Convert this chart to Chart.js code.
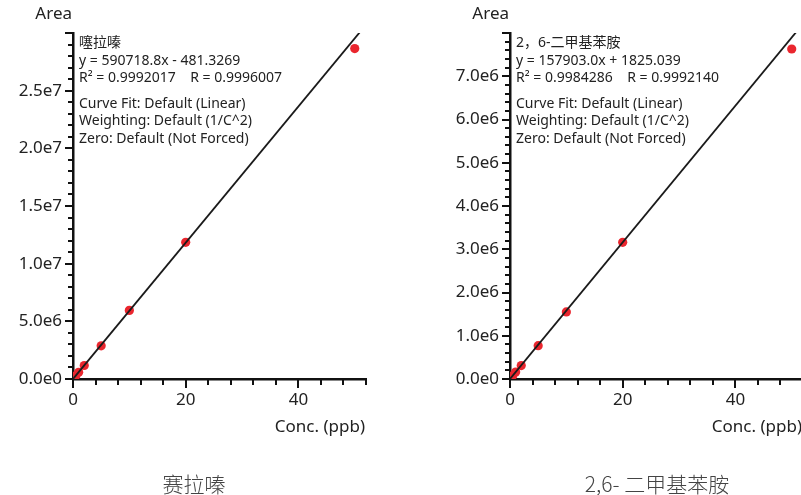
<!DOCTYPE html>
<html>
<head>
<meta charset="utf-8">
<script src="https://cdn.jsdelivr.net/npm/chart.js@4.4.1/dist/chart.umd.min.js"></script>
<style>
    html, body { margin: 0; padding: 0; background: #fff; }
    body { width: 801px; height: 495px; overflow: hidden; position: relative; font-family: 'Noto Sans', 'Noto Sans CJK SC', sans-serif; }
    canvas { position: absolute; top: 0; }
    .titulo { position: absolute; top: 468px; font-family: 'Noto Sans CJK SC', sans-serif; font-size: 21px; font-weight: 300; color: #444; transform: translateX(-50%); white-space: nowrap; }
</style>
</head>
<body>
<canvas id="grafica1" width="400" height="495" style="left:0"></canvas>
<canvas id="grafica2" width="440" height="495" style="left:400px"></canvas>
<div class="titulo" style="left:194px">赛拉嗪</div>
<div class="titulo" style="left:657px">2,6- 二甲基苯胺</div>
<script>
// concentraciones de los patrones (ppb)
const concentraciones = [0.1, 0.2, 0.5, 1, 2, 5, 10, 20, 50];
// areas
const areasXilacina = [60000, 120000, 290000, 580000, 1170000, 2880000, 5950000, 11850000, 28650000];
const areasDimetilanilina = [16000, 32000, 80000, 160000, 310000, 770000, 1550000, 3160000, 7630000];
// recta de calibrado: pendiente, ordenada
const rectaXilacina = [590718.8, -481.3269];
const rectaDimetilanilina = [157903.0, 1825.039];
// extremos x de la recta
const extremosRecta = [0, 52];

// ejes
const ejeX = { max: 52, paso: 4, mayor: 20 };
const ejeY1 = { max: 30000000, paso: 1000000, mayor: 5000000 };
const ejeY2 = { max: 8000000, paso: 200000, mayor: 1000000 };

const textos1 = ['噻拉嗪', 'y = 590718.8x - 481.3269', 'R² = 0.9992017    R = 0.9996007',
    'Curve Fit: Default (Linear)', 'Weighting: Default (1/C^2)', 'Zero: Default (Not Forced)'];
const textos2 = ['2，6-二甲基苯胺', 'y = 157903.0x + 1825.039', 'R² = 0.9984286    R = 0.9992140',
    'Curve Fit: Default (Linear)', 'Weighting: Default (1/C^2)', 'Zero: Default (Not Forced)'];

const fuente = "'Noto Sans', 'Noto Sans CJK SC', sans-serif";

function esMayor(v, m) {
    return Math.abs(v / m - Math.round(v / m)) < 1e-6;
}

function formatoExp(v) {
    return v.toExponential(1).replace('+', '');
}

// marcas de los ejes y textos
const marcas = {
    id: 'marcas',
    afterDraw(chart, args, opts) {
        const ctx = chart.ctx;
        const x = chart.scales.x, y = chart.scales.y;
        const area = chart.chartArea;
        ctx.save();
        ctx.strokeStyle = '#111';
        ctx.lineWidth = 2;
        ctx.beginPath();
        x.ticks.forEach(t => {
            const px = Math.round(x.getPixelForValue(t.value));
            const largo = esMayor(t.value, opts.mayorX) ? 9 : 6;
            ctx.moveTo(px, area.bottom); ctx.lineTo(px, area.bottom + largo);
        });
        y.ticks.forEach(t => {
            const py = Math.round(y.getPixelForValue(t.value));
            const largo = esMayor(t.value, opts.mayorY) ? 8 : 5;
            ctx.moveTo(area.left, py); ctx.lineTo(area.left - largo, py);
        });
        ctx.stroke();

        ctx.fillStyle = '#222';
        ctx.font = '17px ' + fuente;
        ctx.textBaseline = 'middle';
        ctx.textAlign = 'right';
        ctx.fillText('Area', area.left - 1, 14);
        ctx.fillText('Conc. (ppb)', area.right - 1, 427);

        ctx.textAlign = 'left';
        ctx.font = '14px ' + fuente;
        const filas = [10, 28, 45, 71, 88, 106];
        opts.textos.forEach((s, i) => ctx.fillText(s, area.left + 6, area.top + filas[i]));
        ctx.restore();
    }
};

function creaGrafica(id, areas, recta, ejeY, textos, anchoY, margenDer) {
    const ctx = document.getElementById(id);
    new Chart(ctx, {
        type: 'scatter',
        data: {
            datasets: [{
                // recta de calibrado (primero para que quede encima)
                data: extremosRecta.map(c => ({ x: c, y: recta[0] * c + recta[1] })),
                showLine: true,
                borderColor: '#1a1a1a',
                borderWidth: 1.8,
                pointRadius: 0
            }, {
                data: concentraciones.map((c, i) => ({ x: c, y: areas[i] })),
                backgroundColor: 'rgb(234, 38, 46)',
                borderWidth: 0,
                pointRadius: 4.6
            }]
        },
        options: {
            responsive: false,
            animation: false,
            devicePixelRatio: 1,
            layout: { padding: { top: 33, right: margenDer, left: 0, bottom: 0 } },
            plugins: {
                legend: { display: false },
                tooltip: { enabled: false },
                marcas: { mayorX: ejeX.mayor, mayorY: ejeY.mayor, textos: textos }
            },
            scales: {
                x: {
                    type: 'linear',
                    min: 0, max: ejeX.max,
                    afterFit: s => { s.height = 116; },
                    grid: { display: true, drawOnChartArea: false, tickLength: 9, tickColor: 'transparent' },
                    border: { display: true, color: '#111', width: 2.5 },
                    ticks: {
                        stepSize: ejeX.paso, autoSkip: false, maxRotation: 0, padding: 2,
                        color: '#222', font: { family: fuente, size: 17 },
                        callback: v => esMayor(v, ejeX.mayor) ? String(v) : ''
                    }
                },
                y: {
                    type: 'linear',
                    min: 0, max: ejeY.max,
                    afterFit: s => { s.width = anchoY; },
                    grid: { display: true, drawOnChartArea: false, tickLength: 8, tickColor: 'transparent' },
                    border: { display: true, color: '#111', width: 2.5 },
                    ticks: {
                        stepSize: ejeY.paso, autoSkip: false, padding: 3,
                        color: '#222', font: { family: fuente, size: 17 },
                        // sin etiqueta en el extremo superior
                        callback: v => (esMayor(v, ejeY.mayor) && v < ejeY.max) ? formatoExp(v) : ''
                    }
                }
            }
        },
        plugins: [marcas]
    });
}

window.onload = function () {
    creaGrafica('grafica1', areasXilacina, rectaXilacina, ejeY1, textos1, 73, 34);
    creaGrafica('grafica2', areasDimetilanilina, rectaDimetilanilina, ejeY2, textos2, 110, 37);
};
</script>
</body>
</html>
